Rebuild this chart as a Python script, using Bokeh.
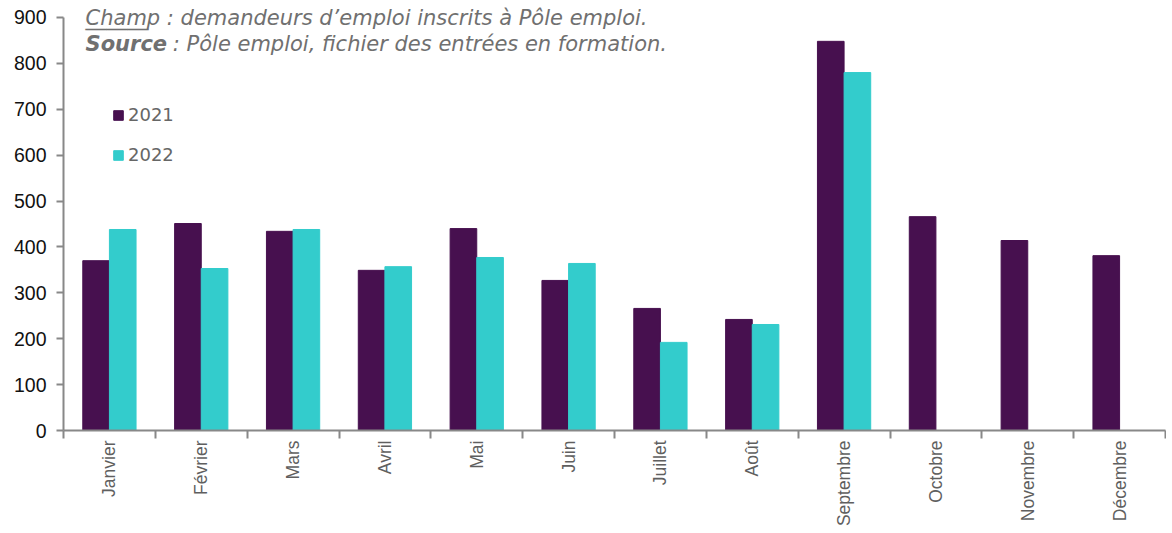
from bokeh.plotting import figure
from bokeh.models import ColumnDataSource, FixedTicker, Range1d, Label, Legend, LegendItem
from bokeh.embed import file_html
from bokeh.resources import INLINE

months = ["Janvier", "Février", "Mars", "Avril", "Mai", "Juin", "Juillet", "Août",
          "Septembre", "Octobre", "Novembre", "Décembre"]
v2021 = [370, 451, 434, 349, 440, 327, 266, 242, 848, 466, 414, 381]
v2022 = [438, 353, 438, 357, 377, 364, 192, 231, 780, None, None, None]
y_ticks = [0, 100, 200, 300, 400, 500, 600, 700, 800, 900]

C21 = "#47104f"
C22 = "#33cccc"

centers = [i + 0.5 for i in range(len(months))]
bw = 0.29
src21 = ColumnDataSource(dict(x=[c - bw / 2 for c in centers], top=v2021))
src22 = ColumnDataSource(dict(x=[c + bw / 2 for c in centers[:9]], top=v2022[:9]))

p = figure(width=1166, height=530, output_backend="svg", toolbar_location=None,
           x_range=Range1d(0, len(months)), y_range=Range1d(0, 937),
           min_border_left=63, min_border_top=0, min_border_right=1, min_border_bottom=100)
p.outline_line_color = None
p.xgrid.visible = False
p.ygrid.visible = False

r21 = p.vbar(x="x", top="top", width=bw, source=src21, fill_color=C21, line_color=C21)
r22 = p.vbar(x="x", top="top", width=bw, source=src22, fill_color=C22, line_color=C22)

# x axis
p.xaxis.ticker = FixedTicker(ticks=centers, minor_ticks=list(range(len(months) + 1)))
p.xaxis.major_label_overrides = {c: m for c, m in zip(centers, months)}
p.xaxis.major_label_orientation = 3.14159265 / 2
p.xaxis.major_tick_line_color = None
p.xaxis.minor_tick_line_color = "#888888"
p.xaxis.minor_tick_line_width = 2
p.xaxis.minor_tick_out = 8
p.xaxis.minor_tick_in = 0
p.xaxis.axis_line_color = "#888888"
p.xaxis.axis_line_width = 2
p.xaxis.major_label_text_font = "Liberation Sans"
p.xaxis.major_label_text_font_size = "17.5px"
p.xaxis.major_label_text_color = "#5f5f5f"
p.xaxis.major_label_standoff = 2

# y axis
p.yaxis.ticker = FixedTicker(ticks=y_ticks, minor_ticks=[])
p.yaxis.bounds = (0, 900)
p.yaxis.axis_line_color = "#888888"
p.yaxis.axis_line_width = 2
p.yaxis.major_tick_line_color = "#888888"
p.yaxis.major_tick_line_width = 2
p.yaxis.major_tick_out = 7
p.yaxis.major_tick_in = 0
p.yaxis.minor_tick_line_color = None
p.yaxis.major_label_text_font = "Liberation Sans"
p.yaxis.major_label_text_font_size = "19.5px"
p.yaxis.major_label_text_color = "#111111"
p.yaxis.major_label_standoff = 10

legend = Legend(items=[LegendItem(label="2021", renderers=[r21]),
                       LegendItem(label="2022", renderers=[r22])],
                location=(49, 265), orientation="vertical",
                border_line_color=None, background_fill_alpha=0,
                padding=0, margin=0, spacing=19,
                glyph_width=12, glyph_height=12, label_height=20, label_standoff=4,
                label_text_font="DejaVu Sans", label_text_font_size="18px",
                label_text_color="#666666")
p.add_layout(legend, "center")

note_color = "#707070"
p.add_layout(Label(x=0.24, y=924, text="Champ : demandeurs d’emploi inscrits à Pôle emploi.",
                   text_baseline="top", text_font="DejaVu Sans", text_font_style="italic",
                   text_font_size="21px", text_color=note_color))
p.add_layout(Label(x=0.24, y=926, text="______",
                   text_baseline="top", text_font="DejaVu Sans", text_font_style="normal",
                   text_font_size="21px", text_color=note_color))
p.add_layout(Label(x=0.24, y=869, text="Source",
                   text_baseline="top", text_font="DejaVu Sans", text_font_style="bold italic",
                   text_font_size="21px", text_color=note_color))
p.add_layout(Label(x=1.19, y=869, text=": Pôle emploi, fichier des entrées en formation.",
                   text_baseline="top", text_font="DejaVu Sans", text_font_style="italic",
                   text_font_size="21px", text_color=note_color))

open("out.html", "w").write(file_html(p, INLINE))
